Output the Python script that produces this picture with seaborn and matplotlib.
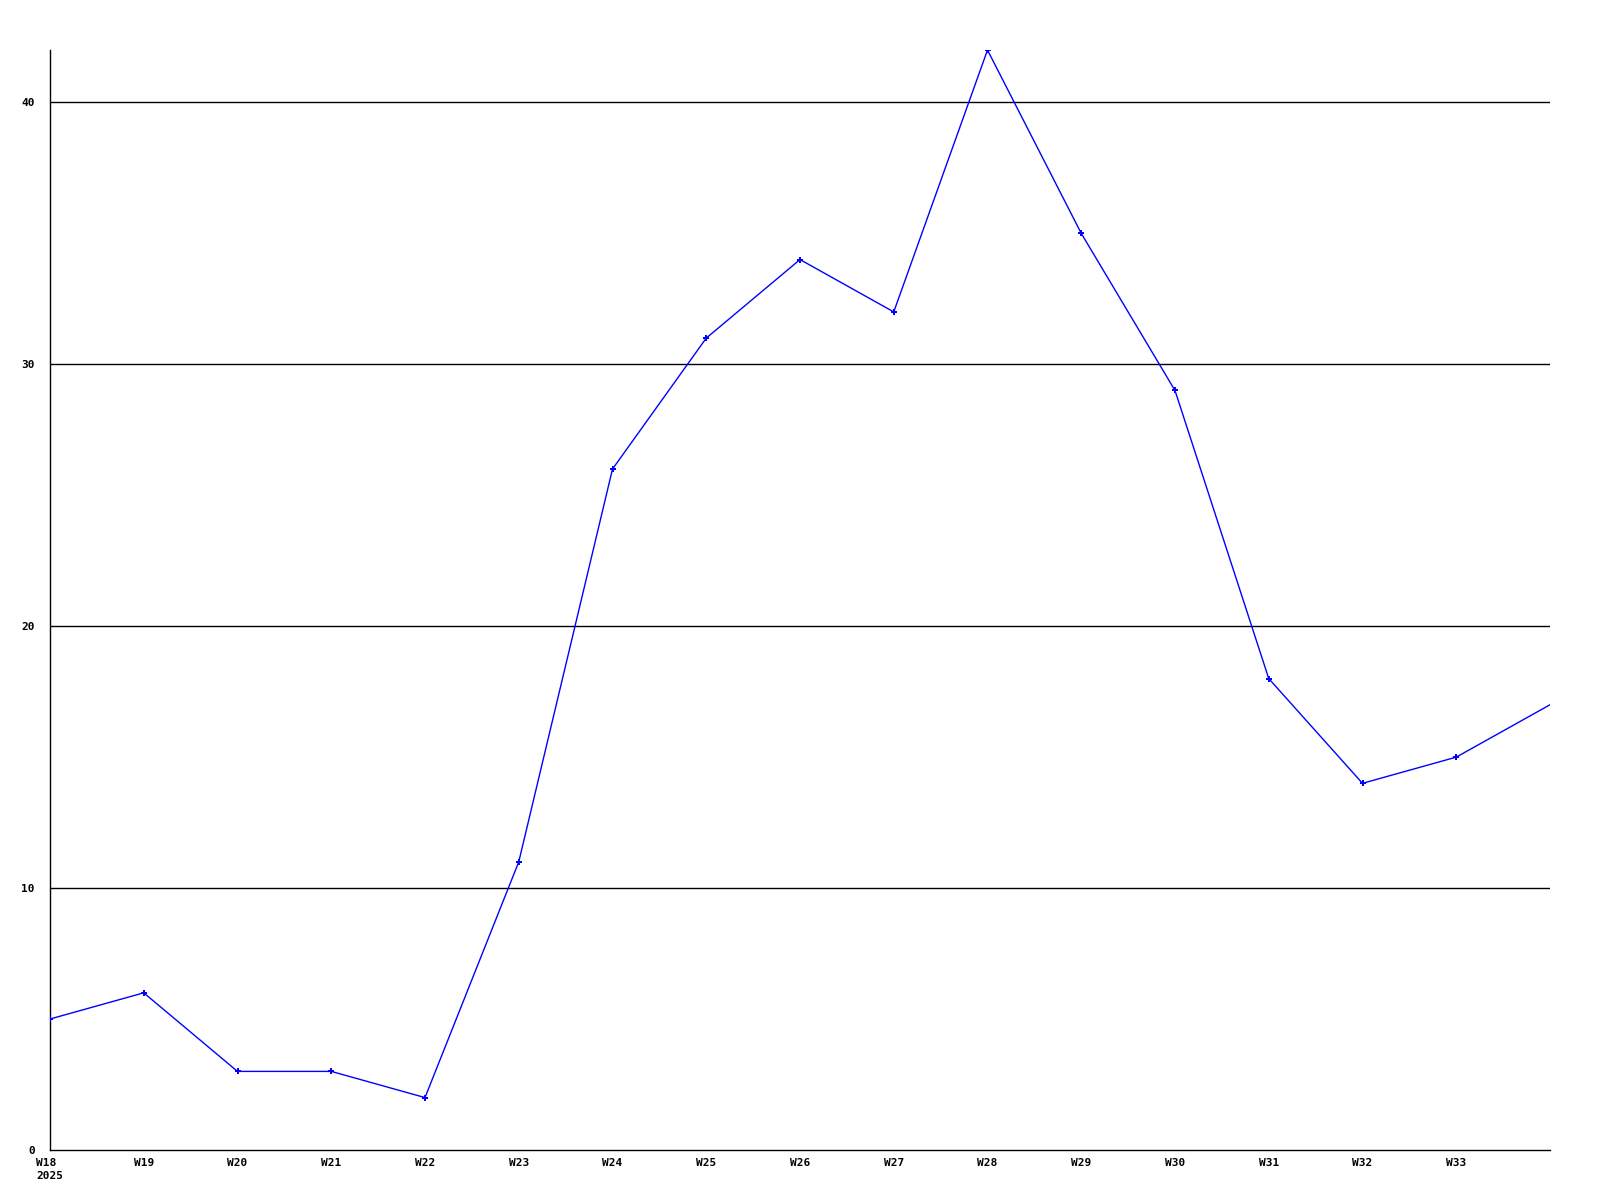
import numpy as np
import pandas as pd
import seaborn as sns
import matplotlib.pyplot as plt

# weekly counts, 2025
weeks = ['W18', 'W19', 'W20', 'W21', 'W22', 'W23', 'W24', 'W25', 'W26',
         'W27', 'W28', 'W29', 'W30', 'W31', 'W32', 'W33', 'W34']
counts = [5, 6, 3, 3, 2, 11, 26, 31, 34, 32, 42, 35, 29, 18, 14, 15, 17]
tick_labels = ['W18\n2025', 'W19', 'W20', 'W21', 'W22', 'W23', 'W24', 'W25',
               'W26', 'W27', 'W28', 'W29', 'W30', 'W31', 'W32', 'W33']
y_ticks = [0, 10, 20, 30, 40]

df = pd.DataFrame({'pos': np.arange(len(weeks)), 'count': counts})

sns.set_style('white')
plt.rcParams['font.family'] = ['DejaVu Sans Mono']
plt.rcParams['text.color'] = 'black'
plt.rcParams['xtick.color'] = 'black'
plt.rcParams['ytick.color'] = 'black'

fig = plt.figure(figsize=(16, 12), dpi=100)
ax = fig.add_axes([0.03125, 0.0417, 0.9375, 0.9166])

# horizontal grid lines
for y in y_ticks[1:]:
    ax.axhline(y, color='black', linewidth=1, zorder=1)

# last point sits on the right edge, no marker drawn there
sns.lineplot(x='pos', y='count', data=df, ax=ax, color='#0000ff',
             linewidth=1, marker='P', markersize=4, markeredgewidth=0,
             markevery=list(range(len(weeks) - 1)), zorder=3)

ax.set_xlim(0, len(weeks) - 1)
ax.set_ylim(0, 42)
ax.set_xticks(np.arange(len(tick_labels)))
ax.set_xticklabels(tick_labels, fontsize=8, fontweight='bold', linespacing=1.3)
# year line left-aligned under the week
ax.get_xticklabels()[0].set_multialignment('left')
ax.set_yticks(y_ticks)
ax.set_yticklabels([str(v) for v in y_ticks], fontsize=8, fontweight='bold')
ax.tick_params(axis='both', length=0, colors='black')
ax.tick_params(axis='y', pad=11)
ax.tick_params(axis='x', pad=6)
ax.set_xlabel('')
ax.set_ylabel('')

for side in ['top', 'right']:
    ax.spines[side].set_visible(False)
for side in ['left', 'bottom']:
    ax.spines[side].set_color('black')
    ax.spines[side].set_linewidth(1)

plt.savefig('out.png', dpi=100)
